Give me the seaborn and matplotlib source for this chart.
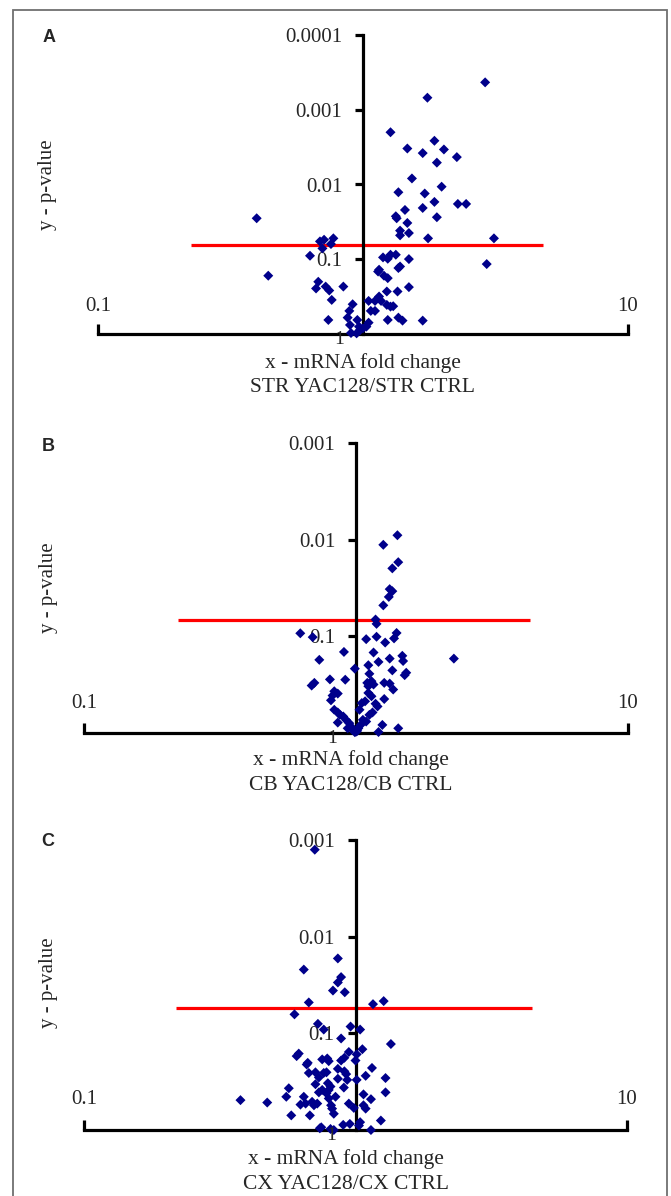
import numpy as np
import pandas as pd
import seaborn as sns
import matplotlib.pyplot as plt
from matplotlib.patches import Rectangle

# values: mRNA fold change and p-value per gene
str_fold = [2.89, 1.75, 1.27, 1.86, 1.47, 1.68, 2.02, 2.26, 1.90, 1.53, 1.98, 1.36, 1.71, 1.86,
            1.68, 2.28, 2.45, 0.397, 1.33, 1.34, 1.44, 1.90, 1.47, 1.38, 1.49, 1.38, 1.76, 3.12,
            0.688, 0.713, 0.703, 0.773, 0.757, 0.631, 0.439, 1.19, 1.24, 1.27, 1.33, 1.49, 2.93,
            1.15, 1.14, 1.20, 1.24, 1.38, 1.36, 0.678, 0.665, 0.723, 0.746, 0.843, 1.23, 1.35,
            1.49, 0.762, 0.914, 1.05, 1.11, 1.15, 1.17, 1.23, 1.27, 1.30, 0.888, 0.875, 1.07,
            1.11, 0.740, 0.893, 0.952, 0.966, 1.05, 1.03, 1.24, 1.36, 1.41, 1.68, 0.901, 0.975,
            1.00, 0.946]
str_p = [4.3e-4, 6.9e-4, 0.0020, 0.0026, 0.0033, 0.0038, 0.0034, 0.0043, 0.0051, 0.0083, 0.0107,
         0.0127, 0.0132, 0.0171, 0.0206, 0.0182, 0.0182, 0.0283, 0.0266, 0.0283, 0.0219, 0.0274,
         0.0327, 0.0414, 0.0446, 0.0479, 0.0525, 0.0525, 0.0577, 0.0548, 0.0716, 0.0525, 0.0626,
         0.0898, 0.166, 0.0945, 0.0985, 0.0870, 0.0870, 0.0995, 0.116, 0.138, 0.146, 0.166, 0.179,
         0.125, 0.131, 0.200, 0.246, 0.232, 0.262, 0.232, 0.270, 0.270, 0.236, 0.350, 0.400,
         0.361, 0.361, 0.315, 0.361, 0.408, 0.430, 0.425, 0.491, 0.604, 0.491, 0.491, 0.649,
         0.757, 0.649, 0.797, 0.705, 0.797, 0.649, 0.604, 0.662, 0.662, 0.97, 0.884, 0.839, 0.98]

cb_fold = [1.42, 1.26, 1.43, 1.36, 1.33, 1.36, 1.32, 1.26, 1.18, 1.19, 0.624, 0.693, 1.09, 1.19,
           1.41, 1.38, 1.28, 0.903, 1.16, 0.733, 1.21, 1.33, 1.48, 1.49, 2.29, 0.99, 1.11, 1.36,
           1.53, 1.51, 0.802, 0.913, 0.703, 0.687, 1.12, 1.10, 1.14, 1.16, 1.11, 1.27, 1.33, 1.37,
           0.832, 0.820, 0.857, 1.11, 1.14, 1.27, 0.809, 1.05, 1.08, 1.18, 1.20, 0.832, 0.857,
           0.873, 1.03, 1.12, 1.15, 0.898, 0.919, 0.945, 0.959, 0.932, 0.972, 0.857, 1.06, 1.09,
           1.04, 1.02, 1.00, 1.01, 0.99, 1.25, 1.21, 1.43]
cb_p = [0.0090, 0.0113, 0.0171, 0.0198, 0.0325, 0.0341, 0.0391, 0.0478, 0.0670, 0.0743, 0.0930,
        0.102, 0.107, 0.101, 0.0923, 0.105, 0.116, 0.145, 0.147, 0.175, 0.184, 0.170, 0.159,
        0.180, 0.170, 0.216, 0.199, 0.225, 0.238, 0.252, 0.279, 0.281, 0.303, 0.323, 0.244, 0.303,
        0.291, 0.315, 0.328, 0.303, 0.308, 0.355, 0.370, 0.410, 0.391, 0.385, 0.417, 0.445, 0.459,
        0.490, 0.470, 0.498, 0.531, 0.575, 0.613, 0.649, 0.575, 0.649, 0.613, 0.675, 0.731, 0.792,
        0.859, 0.894, 0.931, 0.780, 0.731, 0.761, 0.825, 0.894, 0.97, 0.95, 0.98, 0.825, 0.977,
        0.894]

cx_fold = [0.708, 0.861, 0.645, 0.885, 0.861, 0.826, 0.913, 0.673, 1.16, 1.27, 0.596, 0.727,
           0.764, 0.959, 1.04, 0.885, 1.35, 0.618, 0.607, 0.945, 1.06, 0.754, 0.787, 0.797, 0.885,
           0.910, 1.00, 1.01, 0.667, 0.661, 1.15, 0.673, 0.712, 0.733, 0.764, 0.782, 0.861, 0.910,
           0.924, 0.932, 0.861, 1.01, 1.09, 1.29, 0.712, 0.791, 0.809, 0.797, 0.782, 0.906, 0.568,
           0.733, 0.754, 0.844, 1.07, 1.14, 1.29, 0.556, 0.377, 0.473, 0.645, 0.627, 0.655, 0.692,
           0.703, 0.723, 0.797, 0.813, 0.820, 0.945, 0.986, 1.07, 1.09, 0.580, 0.679, 0.832, 0.901,
           0.953, 0.739, 0.748, 0.809, 0.832, 1.04, 1.03, 1.14, 1.24]
cx_p = [0.00126, 0.0168, 0.0219, 0.0262, 0.0298, 0.0361, 0.0376, 0.0479, 0.0499, 0.0464, 0.0636,
        0.0798, 0.0914, 0.0851, 0.0914, 0.113, 0.129, 0.162, 0.172, 0.156, 0.146, 0.186, 0.182,
        0.194, 0.191, 0.179, 0.191, 0.165, 0.202, 0.210, 0.228, 0.257, 0.253, 0.286, 0.257, 0.253,
        0.233, 0.247, 0.264, 0.303, 0.295, 0.303, 0.275, 0.290, 0.336, 0.328, 0.355, 0.385, 0.418,
        0.364, 0.370, 0.408, 0.385, 0.453, 0.428, 0.480, 0.408, 0.453, 0.491, 0.520, 0.453, 0.546,
        0.533, 0.511, 0.555, 0.533, 0.472, 0.555, 0.601, 0.533, 0.591, 0.555, 0.601, 0.706, 0.706,
        0.679, 0.885, 0.865, 0.960, 0.938, 0.976, 1.0, 0.830, 0.900, 1.0, 0.798]

panel_letters = ['A', 'B', 'C']
regions = ['STR', 'CB', 'CX']
top_p = [1e-4, 1e-3, 1e-3]
cut_p = [0.065, 0.068, 0.055]
cut_lo = [0.224, 0.221, 0.218]
cut_hi = [4.78, 4.38, 4.45]

folds = [str_fold, cb_fold, cx_fold]
pvals = [str_p, cb_p, cx_p]

sns.set_style('white')
plt.rcParams['font.family'] = ['Liberation Serif', 'DejaVu Serif']

W, H = 671, 1196
fig = plt.figure(figsize=(W / 100, H / 100), dpi=100)
fig.patch.set_facecolor('white')

# axes boxes in pixels: left, top, right, bottom
boxes = [(98, 35, 628, 334), (84, 443, 628, 733), (84, 840, 627, 1130)]
xlab_pos = [(0.5, -0.064), (0.491, -0.058), (0.4825, -0.065)]
xlab_spacing = [1.36, 1.42, 1.46]
ylab_pos = [(-0.096, 0.50), (-0.066, 0.50), (-0.066, 0.507)]
letter_pos = [(49, 38), (48, 447), (48, 842)]
end_lab_off = [27, 30, 31]

for i in range(3):
    l, t, r, b = boxes[i]
    ax = fig.add_axes([l / W, 1 - b / H, (r - l) / W, (b - t) / H])
    df = pd.DataFrame({'fold': folds[i], 'p': pvals[i]})

    ax.set_xscale('log')
    ax.set_yscale('log')
    ax.hlines(cut_p[i], cut_lo[i], cut_hi[i], color='red', lw=2.3, zorder=2)
    sns.scatterplot(data=df, x='fold', y='p', marker='D', s=26, color='#00008b',
                    edgecolor='none', linewidth=0, ax=ax, zorder=3, clip_on=False,
                    legend=False)
    ax.set_xlim(0.1, 10)
    ax.set_ylim(1, top_p[i])

    ax.spines[['top', 'right']].set_visible(False)
    ax.spines['left'].set_position(('data', 1))
    for side in ['left', 'bottom']:
        ax.spines[side].set_linewidth(2.3)
        ax.spines[side].set_color('black')
        ax.spines[side].set_zorder(2.5)

    yt = [10.0 ** k for k in range(int(round(np.log10(top_p[i]))), 0)]
    ax.set_yticks(yt, [f'{v:.{-int(round(np.log10(v)))}f}' for v in yt])
    ax.set_xticks([0.1, 10], ['', ''])
    ax.minorticks_off()
    ax.tick_params(axis='y', direction='out', length=6, width=2.3, color='black',
                   labelsize=15, pad=9, left=True)
    ax.tick_params(axis='x', direction='in', length=7, width=2.3, color='black', bottom=True)

    # Excel-style labels: axis end values above the line, "1" at the crossing
    ax.annotate('0.1', xy=(0.1, 1), xytext=(0, end_lab_off[i]), textcoords='offset pixels',
                ha='center', va='center', fontsize=15)
    ax.annotate('10', xy=(10, 1), xytext=(0, end_lab_off[i]), textcoords='offset pixels',
                ha='center', va='center', fontsize=15)
    ax.annotate('1', xy=(1, 1), xytext=(-19, 3), textcoords='offset pixels',
                ha='right', va='top', fontsize=14)

    ax.set_xlabel(f'x - mRNA fold change\n{regions[i]} YAC128/{regions[i]} CTRL',
                  fontsize=15.5, linespacing=xlab_spacing[i])
    ax.xaxis.set_label_coords(*xlab_pos[i])
    ax.set_ylabel('y - p-value', fontsize=15, va='center')
    ax.yaxis.set_label_coords(*ylab_pos[i])
    ax.patch.set_alpha(0)

    lx, ly = letter_pos[i]
    fig.text(lx / W, 1 - ly / H, panel_letters[i], family='Liberation Sans',
             weight='bold', fontsize=13, ha='center', va='center')

# grey frame round the whole figure
fig.add_artist(Rectangle((13 / W, -0.01), (667 - 13) / W, 1 - 10 / H + 0.01,
                         transform=fig.transFigure, fill=False, edgecolor='#707070', lw=1.3))

fig.savefig('out.png', dpi=100)
